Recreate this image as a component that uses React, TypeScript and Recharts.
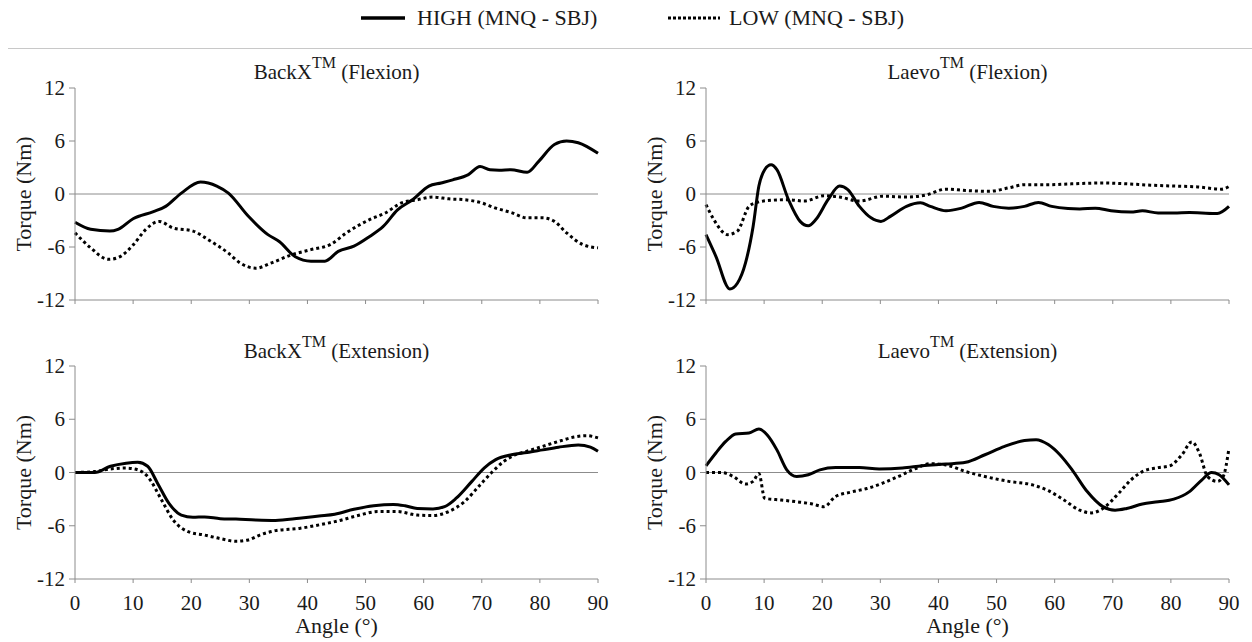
import React from 'react';
import { LineChart, Line, XAxis, YAxis, ReferenceLine } from 'recharts';

// [angle (deg), torque (Nm)]
const backxFlexionHigh = [
  [0, -3.2], [2.7, -4.0], [6, -4.2], [7.4, -4.0], [10, -2.8], [13.5, -2.0], [15.6, -1.4],
  [18.3, 0.1], [21.6, 1.36], [24.4, 0.9], [26.4, 0.1], [29.8, -2.5], [33.2, -4.6], [35.2, -5.4],
  [37.9, -7.1], [40.6, -7.6], [43, -7.6], [45.3, -6.5], [48, -5.9], [50.7, -4.8], [53, -3.7],
  [55.5, -1.8], [58.2, -0.6], [60.9, 0.9], [63, 1.25], [65, 1.6], [67.7, 2.2], [69.7, 3.1],
  [71.4, 2.75], [73, 2.7], [75, 2.75], [77.8, 2.45], [79.8, 3.7], [82.5, 5.6], [84.6, 6.0],
  [86.6, 5.8], [90, 4.6],
];
const backxFlexionLow = [
  [0, -4.4], [2.7, -6.1], [5.75, -7.4], [7.4, -7.2], [10.1, -5.7], [12.2, -4.0], [14.5, -3.1],
  [16.9, -3.85], [20.3, -4.2], [23, -5.2], [26.4, -6.7], [28.4, -7.8], [31.1, -8.4], [33.8, -7.8],
  [37.2, -6.9], [40.6, -6.3], [44, -5.7], [46.7, -4.4], [50.7, -2.9], [53.4, -2.15], [56.2, -1.0],
  [58.9, -0.65], [61.6, -0.35], [64.3, -0.55], [67, -0.65], [69.7, -0.95], [72.4, -1.6],
  [75.1, -2.1], [77.8, -2.7], [80.5, -2.7], [82.5, -3.1], [84.6, -4.4], [87.3, -5.7], [90, -6.1],
];
const laevoFlexionHigh = [
  [0, -4.6], [1.7, -7.05], [4.1, -10.75], [5.4, -10.1], [6.8, -7.8], [8.1, -3.7], [9.1, 0.9],
  [10.1, 2.75], [11.2, 3.3], [12.2, 2.75], [14.2, -0.65], [16.2, -3.1], [17.6, -3.6], [18.9, -2.9],
  [21, -0.65], [23, 0.9], [24.4, 0.5], [26.4, -1.4], [28.4, -2.7], [30.1, -3.1], [31.8, -2.5],
  [34.5, -1.4], [36.9, -1.0], [38.6, -1.4], [41.3, -1.9], [44, -1.6], [47, -0.95], [49.4, -1.4],
  [52.1, -1.6], [54.8, -1.4], [57.2, -0.95], [59.5, -1.4], [62.3, -1.65], [64.3, -1.7],
  [67, -1.6], [69.7, -1.9], [73.1, -2.05], [75.1, -1.9], [77.8, -2.15], [80.5, -2.15],
  [83.2, -2.1], [85.3, -2.15], [88, -2.2], [90, -1.4],
];
const laevoFlexionLow = [
  [0, -1.2], [1.35, -2.9], [3.7, -4.6], [5.4, -4.2], [7.4, -1.4], [8.8, -0.95], [11.5, -0.7],
  [14.2, -0.65], [16.9, -0.8], [20.3, -0.2], [23, -0.35], [26.4, -0.8], [30.4, -0.25],
  [34.5, -0.35], [37.9, -0.1], [41.3, 0.55], [44.7, 0.4], [48.7, 0.3], [52.1, 0.7], [54.8, 1.05],
  [58.9, 1.05], [62.9, 1.15], [68.3, 1.25], [72.4, 1.15], [76.5, 1.0], [80.5, 0.9], [84.6, 0.8],
  [88.7, 0.55], [90, 0.85],
];
const backxExtensionHigh = [
  [0, 0], [3.4, 0], [6.1, 0.7], [8.8, 1.05], [10.8, 1.15], [12.5, 0.7], [14.2, -1.2], [16.2, -3.5],
  [18.3, -4.8], [20.3, -5.05], [22.3, -5.0], [25, -5.2], [27.7, -5.25], [31.1, -5.35], [34.5, -5.4],
  [38.6, -5.15], [42, -4.9], [44.7, -4.7], [48, -4.15], [51.4, -3.75], [54.8, -3.6], [56.8, -3.75],
  [58.9, -4.05], [61.6, -4.1], [63.6, -3.85], [65.6, -2.9], [68.3, -1.0], [70.4, 0.5], [72.4, 1.45],
  [75.1, 2.0], [77.8, 2.25], [80.5, 2.55], [83.2, 2.85], [86.6, 3.1], [88.7, 2.85], [90, 2.4],
];
const backxExtensionLow = [
  [0, 0], [3.4, 0.1], [6.1, 0.4], [8.8, 0.5], [10.8, 0.3], [12.5, -0.45], [14.9, -3.1],
  [16.9, -5.35], [19.6, -6.7], [22.3, -7.05], [25, -7.45], [27.7, -7.75], [29.8, -7.6],
  [31.8, -7.05], [34.5, -6.55], [38.6, -6.3], [42, -5.9], [45.3, -5.45], [48.7, -4.85],
  [52.1, -4.4], [55.5, -4.4], [58.9, -4.8], [61.6, -4.85], [64.3, -4.4], [67, -3.3], [69.7, -1.4],
  [71.7, 0], [73.8, 1.25], [75.8, 2.0], [77.8, 2.4], [80.5, 2.95], [83.2, 3.5], [85.9, 4.0],
  [88, 4.15], [90, 3.9],
];
const laevoExtensionHigh = [
  [0, 0.75], [1.7, 2.2], [3.4, 3.5], [5.1, 4.35], [7.4, 4.45], [9.1, 4.9], [10.5, 4.25],
  [12.2, 2.55], [13.9, 0.3], [15.6, -0.45], [17.6, -0.25], [19.6, 0.3], [22.3, 0.55], [26.4, 0.55],
  [29.8, 0.4], [33.8, 0.5], [37.2, 0.75], [41.3, 0.95], [44.7, 1.15], [48, 2.0], [51.4, 2.95],
  [54.8, 3.6], [56.8, 3.7], [58.9, 3.15], [60.9, 2.0], [63, 0.3], [65.6, -2.15], [68.3, -3.85],
  [70.4, -4.25], [72.4, -4.05], [75.1, -3.55], [77.8, -3.3], [80.5, -3.0], [83.2, -2.15],
  [85.3, -0.85], [87, 0], [88.3, -0.25], [90, -1.4],
];
const laevoExtensionLow = [
  [0, 0], [2.7, 0], [4.7, -0.45], [6.8, -1.3], [8.1, -1.0], [9.1, -0.1], [10.1, -2.9], [12.9, -3.1],
  [15.6, -3.3], [18.3, -3.55], [20.3, -3.85], [22.3, -2.7], [25, -2.2], [27.7, -1.8], [30.4, -1.2],
  [33.1, -0.45], [35.9, 0.4], [38.6, 1.0], [41.3, 0.85], [44.7, 0.1], [48, -0.45], [52.1, -1.0],
  [56.2, -1.4], [58.9, -2.05], [61.6, -3.1], [64.3, -4.25], [66.3, -4.55], [68.3, -4.05],
  [71, -2.35], [73.1, -0.85], [75.1, 0.1], [77.8, 0.55], [79.8, 0.75], [81.9, 2.0], [83.6, 3.45],
  [84.9, 2.2], [86.3, -0.45], [88, -1.0], [89, -0.45], [90, 2.75],
];

const angleTicks = [0, 10, 20, 30, 40, 50, 60, 70, 80, 90];
const torqueTicks = [-12, -6, 0, 6, 12];

const FONT = 'Liberation Serif';
const AXIS = '#8c8c8c';
const INK = '#1a1a1a';

const toPoints = (arr: number[][]) => arr.map(([a, t]) => ({ a, t }));

// explicit serif text for axis ticks
const XTick = (show: boolean) => (p: any) =>
  show ? (
    <text x={p.x} y={p.y} dy={27} textAnchor="middle" fill={INK} fontSize={21} style={{ fontFamily: FONT }}>
      {p.payload.value}
    </text>
  ) : (
    <g />
  );

const YTick = (p: any) => (
  <text x={p.x} y={p.y} dy={7} textAnchor="end" fill={INK} fontSize={21} style={{ fontFamily: FONT }}>
    {p.payload.value}
  </text>
);

const YLabel = (p: any) => {
  const vb = p.viewBox;
  const cx = 24;
  const cy = vb.y + vb.height / 2;
  return (
    <text
      x={cx}
      y={cy}
      transform={`rotate(-90 ${cx} ${cy})`}
      textAnchor="middle"
      dy={7}
      fill={INK}
      fontSize={22}
      style={{ fontFamily: FONT }}
    >
      Torque (Nm)
    </text>
  );
};

const XLabel = (p: any) => {
  const vb = p.viewBox;
  return (
    <text x={vb.x + vb.width / 2} y={vb.y + 54} textAnchor="middle" fill={INK} fontSize={22} style={{ fontFamily: FONT }}>
      Angle (°)
    </text>
  );
};

interface PanelProps {
  name: string;
  mode: string;
  high: number[][];
  low: number[][];
  left: number;
  top: number;
  width: number;
  bottomRow: boolean;
}

const Panel: React.FC<PanelProps> = ({ name, mode, high, low, left, top, width, bottomRow }) => {
  const height = bottomRow ? 312 : 260;
  const marginTop = bottomRow ? 36 : 28;
  const marginRight = width - 598;
  const xHeight = bottomRow ? 63 : 20;
  const titleTop = bottomRow ? top + 11 : top + 2;

  return (
    <>
      <div
        style={{
          position: 'absolute',
          left: left + 75,
          width: 523,
          top: titleTop,
          textAlign: 'center',
          fontSize: 21,
          lineHeight: '21px',
          color: INK,
          whiteSpace: 'nowrap',
        }}
      >
        {name}
        <span style={{ fontSize: 16, position: 'relative', top: -11 }}>TM</span> ({mode})
      </div>
      <div style={{ position: 'absolute', left, top }}>
        <LineChart
          width={width}
          height={height}
          margin={{ top: marginTop, right: marginRight, bottom: 0, left: 10 }}
        >
          <XAxis
            dataKey="a"
            type="number"
            domain={[0, 90]}
            ticks={angleTicks}
            height={xHeight}
            stroke={AXIS}
            tickSize={4}
            tickMargin={0}
            tick={XTick(bottomRow)}
            label={bottomRow ? <XLabel /> : undefined}
          />
          <YAxis
            type="number"
            domain={[-12, 12]}
            ticks={torqueTicks}
            width={65}
            stroke={AXIS}
            tickSize={6}
            tickMargin={4}
            tick={YTick}
            label={<YLabel />}
          />
          <ReferenceLine y={0} stroke={AXIS} strokeWidth={1} />
          <Line
            data={toPoints(high)}
            dataKey="t"
            type="monotone"
            stroke="#000"
            strokeWidth={3}
            dot={false}
            activeDot={false}
            isAnimationActive={false}
          />
          <Line
            data={toPoints(low)}
            dataKey="t"
            type="monotone"
            stroke="#000"
            strokeWidth={3}
            strokeDasharray="3 3"
            dot={false}
            activeDot={false}
            isAnimationActive={false}
          />
        </LineChart>
      </div>
    </>
  );
};

const legendText: React.CSSProperties = {
  fontSize: 22,
  color: INK,
  position: 'absolute',
  top: 6,
  lineHeight: '24px',
  whiteSpace: 'nowrap',
};

export default function App() {
  return (
    <div
      style={{
        position: 'absolute',
        left: 0,
        top: 0,
        width: 1252,
        height: 642,
        background: '#fff',
        overflow: 'hidden',
        fontFamily: FONT,
      }}
    >
      {/* legend */}
      <svg width={1252} height={40} style={{ position: 'absolute', left: 0, top: 0 }}>
        <line x1={361} x2={405} y1={18} y2={18} stroke="#000" strokeWidth={3.5} />
        <line x1={668} x2={720} y1={18} y2={18} stroke="#000" strokeWidth={3} strokeDasharray="3 2" />
      </svg>
      <div style={{ ...legendText, left: 417 }}>HIGH (MNQ - SBJ)</div>
      <div style={{ ...legendText, left: 729 }}>LOW (MNQ - SBJ)</div>
      <div style={{ position: 'absolute', left: 8, right: 0, top: 48, height: 0, borderTop: '1.5px solid #c8c8c8' }} />

      <Panel name="BackX" mode="Flexion" high={backxFlexionHigh} low={backxFlexionLow} left={0} top={60} width={626} bottomRow={false} />
      <Panel name="Laevo" mode="Flexion" high={laevoFlexionHigh} low={laevoFlexionLow} left={631} top={60} width={621} bottomRow={false} />
      <Panel name="BackX" mode="Extension" high={backxExtensionHigh} low={backxExtensionLow} left={0} top={330} width={626} bottomRow />
      <Panel name="Laevo" mode="Extension" high={laevoExtensionHigh} low={laevoExtensionLow} left={631} top={330} width={621} bottomRow />
    </div>
  );
}
